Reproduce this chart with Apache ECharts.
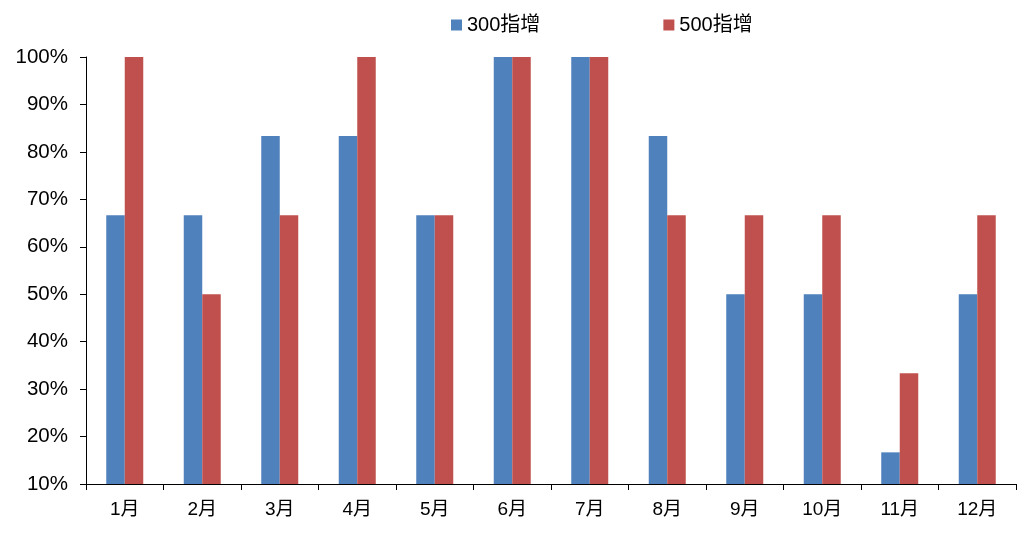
<!DOCTYPE html>
<html>
<head>
<meta charset="utf-8">
<script src="https://cdn.jsdelivr.net/npm/echarts@6/dist/echarts.min.js"></script>
<style>html,body{margin:0;padding:0;background:#fff}#c{width:1032px;height:537px}</style>
</head>
<body>
<div id="c"></div>
<script>
const categories = ['1月','2月','3月','4月','5月','6月','7月','8月','9月','10月','11月','12月'];
const series300 = [66.67, 66.67, 83.33, 83.33, 66.67, 100, 100, 83.33, 50, 50, 16.67, 50];
const series500 = [100, 50, 66.67, 100, 66.67, 100, 100, 66.67, 66.67, 66.67, 33.33, 66.67];
const seriesNames = ['300指增', '500指增'];

const FONT = '"Liberation Sans", Arial, "Noto Sans CJK SC", sans-serif';
const chart = echarts.init(document.getElementById('c'), null, {renderer: 'canvas'});
chart.setOption({
  animation: false,
  backgroundColor: '#ffffff',
  textStyle: {fontFamily: FONT},
  legend: {
    left: 451, top: 15, padding: 0,
    itemWidth: 11, itemHeight: 11, itemGap: 123,
    icon: 'rect',
    textStyle: {fontSize: 20, color: '#000', fontFamily: FONT},
    data: seriesNames
  },
  grid: {left: 86, right: 16, top: 57, bottom: 53, containLabel: false},
  xAxis: {
    type: 'category',
    data: categories,
    boundaryGap: true,
    axisLine: {lineStyle: {color: '#000', width: 1}},
    axisTick: {show: true, length: 6, lineStyle: {color: '#000'}},
    axisLabel: {color: '#000', fontSize: 19, margin: 16, fontFamily: FONT}
  },
  yAxis: {
    type: 'value',
    min: 10, max: 100, interval: 10,
    axisLine: {show: true, lineStyle: {color: '#000', width: 1}},
    axisTick: {show: true, length: 6, lineStyle: {color: '#000'}},
    splitLine: {show: false},
    axisLabel: {color: '#000', fontSize: 20.5, margin: 18, formatter: '{value}%', fontFamily: FONT}
  },
  series: [
    {name: seriesNames[0], type: 'bar', data: series300, barWidth: 18.5, barGap: '0%',
     itemStyle: {color: '#4F81BD'}},
    {name: seriesNames[1], type: 'bar', data: series500, barWidth: 18.5, barGap: '0%',
     itemStyle: {color: '#C0504D'}}
  ]
});
</script>
</body>
</html>
